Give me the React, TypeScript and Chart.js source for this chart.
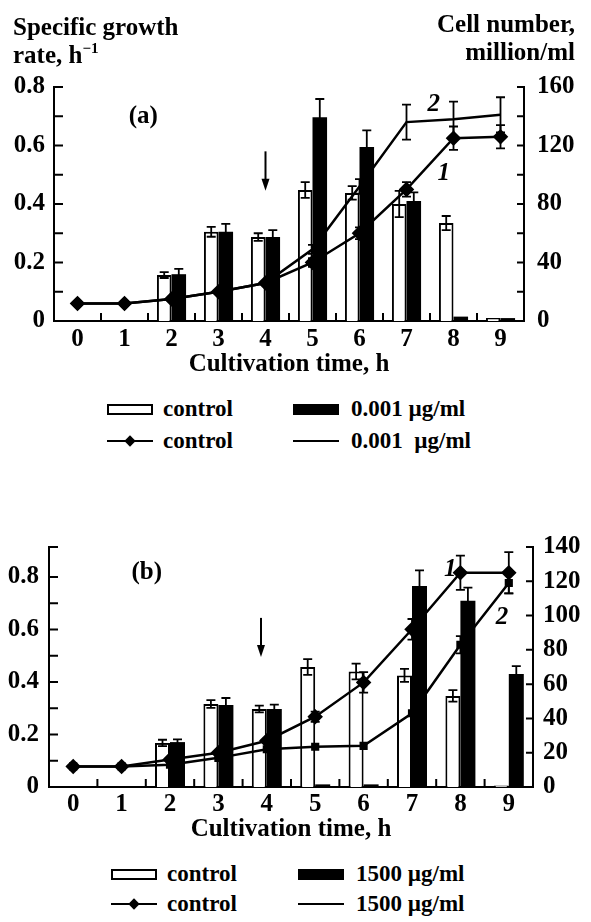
import React, { useEffect, useRef } from 'react';
import { Chart, registerables } from 'chart.js';
Chart.register(...registerables);

const FONT = "'Liberation Serif', 'Times New Roman', serif";

const hours = ['0', '1', '2', '3', '4', '5', '6', '7', '8', '9'];

// ---- Panel (a): 0.001 ug/ml ----
const aControlRate = [null, null, 0.157, 0.305, 0.287, 0.448, 0.438, 0.4, 0.335, 0.01];
const aControlRateErr = [0, 0, 0.01, 0.017, 0.013, 0.027, 0.023, 0.045, 0.024, 0];
const aTreatRate = [null, null, 0.16, 0.305, 0.287, 0.697, 0.595, 0.41, 0.015, 0.01];
const aTreatRateErr = [0, 0, 0.018, 0.027, 0.024, 0.062, 0.057, 0.03, 0, 0];
const aControlCells = [12, 12, 15, 20, 26, 40, 60, 90, 125, 126];
const aControlCellsErr = [0, 0, 0, 0, 0, 3, 4, 5, 8, 8];
const aTreatCells = [12, 12, 15, 20, 26, 49, 92, 136, 138, 141];
const aTreatCellsErr = [0, 0, 0, 0, 0, 3, 5, 12, 12, 12];
const aLeftTicks = [0.1, 0.2, 0.3, 0.4, 0.5, 0.6, 0.7, 0.8];
const aRightTicks = [20, 40, 60, 80, 100, 120, 140, 160];

// ---- Panel (b): 1500 ug/ml ----
const bControlRate = [null, null, 0.168, 0.316, 0.297, 0.457, 0.44, 0.425, 0.347, 0.006];
const bControlRateErr = [0, 0, 0.012, 0.015, 0.013, 0.03, 0.03, 0.025, 0.022, 0];
const bTreatRate = [null, null, 0.171, 0.312, 0.297, 0.01, 0.01, 0.765, 0.709, 0.43];
const bTreatRateErr = [0, 0, 0.01, 0.027, 0.017, 0, 0, 0.06, 0.05, 0.03];
const bControlCells = [12, 12, 16, 20, 27, 41, 61, 92, 125, 125];
const bControlCellsErr = [0, 0, 0, 0, 0, 3, 6, 6, 10, 12];
const bTreatCells = [12, 12, 13, 17, 22, 23.5, 24, 43, 83, 119];
const bTreatCellsErr = [0, 0, 0, 0, 0, 0, 0, 0, 5, 6];
const bLeftTicks = [0.1, 0.2, 0.3, 0.4, 0.5, 0.6, 0.7, 0.8, 0.914];
const bRightTicks = [20, 40, 60, 80, 100, 120, 140];

const decorPlugin = {
  id: 'decor',
  afterDatasetsDraw(chart: any) {
    const ctx = chart.ctx;
    chart.data.datasets.forEach((ds: any, i: number) => {
      const errs = ds.errors;
      if (!errs) return;
      const meta = chart.getDatasetMeta(i);
      const ys = chart.scales[ds.yAxisID];
      meta.data.forEach((el: any, j: number) => {
        const v = ds.data[j];
        const e = errs[j];
        if (v == null || !e) return;
        const x = el.x;
        const t = ys.getPixelForValue(v + e);
        const b = ys.getPixelForValue(v - e);
        ctx.save();
        ctx.strokeStyle = '#000';
        ctx.lineWidth = 1.8;
        ctx.beginPath();
        ctx.moveTo(x, t); ctx.lineTo(x, b);
        ctx.moveTo(x - 4.5, t); ctx.lineTo(x + 4.5, t);
        ctx.moveTo(x - 4.5, b); ctx.lineTo(x + 4.5, b);
        ctx.stroke();
        ctx.restore();
      });
    });
  },
  afterDraw(chart: any, _args: any, opts: any) {
    const ctx = chart.ctx;
    const { left, right, bottom } = chart.chartArea;
    const xs = chart.scales.x, yl = chart.scales.y, yr = chart.scales.y1;
    ctx.save();
    ctx.strokeStyle = '#000';
    ctx.fillStyle = '#000';
    ctx.lineWidth = 2;
    ctx.beginPath();
    for (let i = 0; i < hours.length - 1; i++) {
      const px = xs.getPixelForValue(i + 0.5);
      ctx.moveTo(px, bottom); ctx.lineTo(px, bottom - 8);
    }
    for (const v of opts.leftTicks) {
      const py = yl.getPixelForValue(v);
      ctx.moveTo(left, py); ctx.lineTo(left + 9, py);
    }
    for (const v of opts.rightTicks) {
      const py = yr.getPixelForValue(v);
      ctx.moveTo(right, py); ctx.lineTo(right - 7, py);
    }
    ctx.stroke();
    // arrow
    const ax = xs.getPixelForValue(opts.arrow.x);
    const at = yl.getPixelForValue(opts.arrow.from);
    const ab = yl.getPixelForValue(opts.arrow.to);
    ctx.beginPath();
    ctx.moveTo(ax, at); ctx.lineTo(ax, ab - 8);
    ctx.stroke();
    ctx.beginPath();
    ctx.moveTo(ax - 4, ab - 12); ctx.lineTo(ax + 4, ab - 12); ctx.lineTo(ax, ab); ctx.closePath();
    ctx.fill();
    // panel label
    ctx.textAlign = 'center';
    ctx.textBaseline = 'middle';
    ctx.font = `bold 25px ${FONT}`;
    ctx.fillText(opts.panel.text, xs.getPixelForValue(opts.panel.x), yl.getPixelForValue(opts.panel.y));
    ctx.font = `italic bold 25px ${FONT}`;
    for (const c of opts.curveLabels) {
      ctx.fillText(c.t, xs.getPixelForValue(c.x), yr.getPixelForValue(c.y));
    }
    ctx.restore();
  },
};

type Panel = {
  controlRate: (number | null)[]; controlRateErr: number[];
  treatRate: (number | null)[]; treatRateErr: number[];
  controlCells: number[]; controlCellsErr: number[];
  treatCells: number[]; treatCellsErr: number[];
  dose: string; leftMax: number; rightMax: number;
  leftW: number; rightW: number; padTop: number; xH: number;
  tickPadX: number; titlePadB: number; leftPad: number; rightPad: number;
  treatPointRadius: number;
  leftTicks: number[]; rightTicks: number[];
  arrow: any; panel: any; curveLabels: any[];
};

const tickFont = { family: FONT, size: 25, weight: 'bold' };

function buildConfig(p: Panel): any {
  return {
    type: 'bar',
    data: {
      labels: hours,
      datasets: [
        {
          type: 'line', label: 'control', data: p.controlCells, errors: p.controlCellsErr, yAxisID: 'y1',
          borderColor: '#000', borderWidth: 2.5, pointStyle: 'rectRot', pointRadius: 6,
          pointBackgroundColor: '#000', pointBorderColor: '#000', order: 0, tension: 0,
        },
        {
          type: 'line', label: p.dose, data: p.treatCells, errors: p.treatCellsErr, yAxisID: 'y1',
          borderColor: '#000', borderWidth: 2.5, pointStyle: 'rect', pointRadius: p.treatPointRadius,
          pointBackgroundColor: '#000', pointBorderColor: '#000', order: 0, tension: 0,
        },
        {
          type: 'bar', label: 'control', data: p.controlRate, errors: p.controlRateErr, yAxisID: 'y',
          backgroundColor: '#fff', borderColor: '#000', borderWidth: 2,
          categoryPercentage: 0.62, barPercentage: 1, order: 1,
        },
        {
          type: 'bar', label: p.dose, data: p.treatRate, errors: p.treatRateErr, yAxisID: 'y',
          backgroundColor: '#000', borderColor: '#000', borderWidth: 0,
          categoryPercentage: 0.62, barPercentage: 1, order: 1,
        },
      ],
    },
    options: {
      responsive: false,
      animation: false,
      devicePixelRatio: 1,
      layout: { padding: { top: p.padTop, left: 0, right: 0, bottom: 0 } },
      plugins: {
        legend: { display: false },
        tooltip: { enabled: false },
        decor: { leftTicks: p.leftTicks, rightTicks: p.rightTicks, arrow: p.arrow, panel: p.panel, curveLabels: p.curveLabels },
      },
      scales: {
        x: {
          type: 'category', offset: true,
          afterFit: (s: any) => { s.height = p.xH; },
          grid: { display: false, drawTicks: false },
          border: { display: true, color: '#000', width: 2 },
          ticks: { color: '#000', font: tickFont, padding: p.tickPadX, maxRotation: 0, autoSkip: false },
          title: { display: true, text: 'Cultivation time, h', color: '#000', font: tickFont, padding: { top: 0, bottom: p.titlePadB } },
        },
        y: {
          position: 'left', min: 0, max: p.leftMax,
          afterFit: (s: any) => { s.width = p.leftW; },
          grid: { display: false, drawTicks: false },
          border: { display: true, color: '#000', width: 2 },
          ticks: {
            stepSize: 0.2, color: '#000', font: tickFont, padding: p.leftPad,
            callback: (v: number) => {
              const r = v / 0.2;
              return Math.abs(r - Math.round(r)) < 1e-6 ? String(Math.round(v * 10) / 10) : '';
            },
          },
        },
        y1: {
          position: 'right', min: 0, max: p.rightMax,
          afterFit: (s: any) => { s.width = p.rightW; },
          grid: { display: false, drawTicks: false },
          border: { display: true, color: '#000', width: 2 },
          ticks: { stepSize: 20, color: '#000', font: tickFont, padding: p.rightPad },
        },
      },
    },
    plugins: [decorPlugin],
  };
}

const panelA: Panel = {
  controlRate: aControlRate, controlRateErr: aControlRateErr,
  treatRate: aTreatRate, treatRateErr: aTreatRateErr,
  controlCells: aControlCells, controlCellsErr: aControlCellsErr,
  treatCells: aTreatCells, treatCellsErr: aTreatCellsErr,
  dose: '0.001 µg/ml', leftMax: 0.8, rightMax: 160,
  leftW: 54, rightW: 67, padTop: 87, xH: 71, tickPadX: 4, titlePadB: 12,
  leftPad: 9, rightPad: 13, treatPointRadius: 0,
  leftTicks: aLeftTicks, rightTicks: aRightTicks,
  arrow: { x: 4, from: 0.58, to: 0.445 },
  panel: { text: '(a)', x: 1.4, y: 0.7 },
  curveLabels: [{ t: '2', x: 7.58, y: 148 }, { t: '1', x: 7.79, y: 101 }],
};

const panelB: Panel = {
  controlRate: bControlRate, controlRateErr: bControlRateErr,
  treatRate: bTreatRate, treatRateErr: bTreatRateErr,
  controlCells: bControlCells, controlCellsErr: bControlCellsErr,
  treatCells: bTreatCells, treatCellsErr: bTreatCellsErr,
  dose: '1500 µg/ml', leftMax: 0.914, rightMax: 140,
  leftW: 49, rightW: 58, padTop: 77, xH: 63, tickPadX: 3, titlePadB: 5,
  leftPad: 10, rightPad: 10, treatPointRadius: 4,
  leftTicks: bLeftTicks, rightTicks: bRightTicks,
  arrow: { x: 3.88, from: 0.644, to: 0.495 },
  panel: { text: '(b)', x: 1.52, y: 0.815 },
  curveLabels: [{ t: '1', x: 7.79, y: 127 }, { t: '2', x: 8.86, y: 98.6 }],
};

function PanelChart({ cfg, top, height }: { cfg: Panel; top: number; height: number }) {
  const ref = useRef<HTMLCanvasElement>(null);
  useEffect(() => {
    const chart = new Chart(ref.current as HTMLCanvasElement, buildConfig(cfg));
    return () => chart.destroy();
  }, []);
  return (
    <canvas ref={ref} width={591} height={height}
      style={{ position: 'absolute', left: 0, top, width: 591, height, display: 'block' }} />
  );
}

const txt: React.CSSProperties = { position: 'absolute', fontFamily: FONT, color: '#000', whiteSpace: 'nowrap', fontWeight: 'bold' };

function Sym({ kind }: { kind: string }) {
  if (kind === 'box') return <div style={{ width: 46, height: 11, border: '2px solid #000', boxSizing: 'border-box', background: '#fff' }} />;
  if (kind === 'fill') return <div style={{ width: 46, height: 11, background: '#000' }} />;
  if (kind === 'line') return <div style={{ width: 46, height: 2, background: '#000' }} />;
  return (
    <div style={{ position: 'relative', width: 46, height: 12 }}>
      <div style={{ position: 'absolute', left: 0, top: 5, width: 46, height: 2, background: '#000' }} />
      <div style={{ position: 'absolute', left: 19, top: 2, width: 8, height: 8, background: '#000', transform: 'rotate(45deg)' }} />
    </div>
  );
}

function LegendItem({ x, y, kind, label, gap }: { x: number; y: number; kind: string; label: string; gap: number }) {
  return (
    <div style={{ ...txt, left: x, top: y - 15, height: 30, display: 'flex', alignItems: 'center', fontSize: 23 }}>
      <Sym kind={kind} />
      <span style={{ marginLeft: gap }}>{label}</span>
    </div>
  );
}

export default function App() {
  return (
    <div style={{ position: 'absolute', left: 0, top: 0, width: 591, height: 922, background: '#fff', overflow: 'hidden' }}>
      <PanelChart cfg={panelA} top={0} height={392} />
      <PanelChart cfg={panelB} top={470} height={380} />
      <div style={{ ...txt, left: 13, top: 13, fontSize: 25, lineHeight: '28px' }}>
        Specific growth<br />rate, h<span style={{ fontSize: 15, position: 'relative', top: -10 }}>−1</span>
      </div>
      <div style={{ ...txt, right: 16, top: 10, fontSize: 25, lineHeight: '28px', textAlign: 'right' }}>
        Cell number,<br />million/ml
      </div>
      <LegendItem x={107} y={409} kind="box" label="control" gap={10} />
      <LegendItem x={293} y={409} kind="fill" label="0.001 µg/ml" gap={12} />
      <LegendItem x={107} y={441} kind="diamond" label="control" gap={10} />
      <LegendItem x={293} y={441} kind="line" label={'0.001\u00a0\u00a0µg/ml'} gap={12} />
      <LegendItem x={111} y={874} kind="box" label="control" gap={10} />
      <LegendItem x={298} y={874} kind="fill" label="1500 µg/ml" gap={12} />
      <LegendItem x={111} y={904} kind="diamond" label="control" gap={10} />
      <LegendItem x={298} y={904} kind="line" label="1500 µg/ml" gap={12} />
    </div>
  );
}
